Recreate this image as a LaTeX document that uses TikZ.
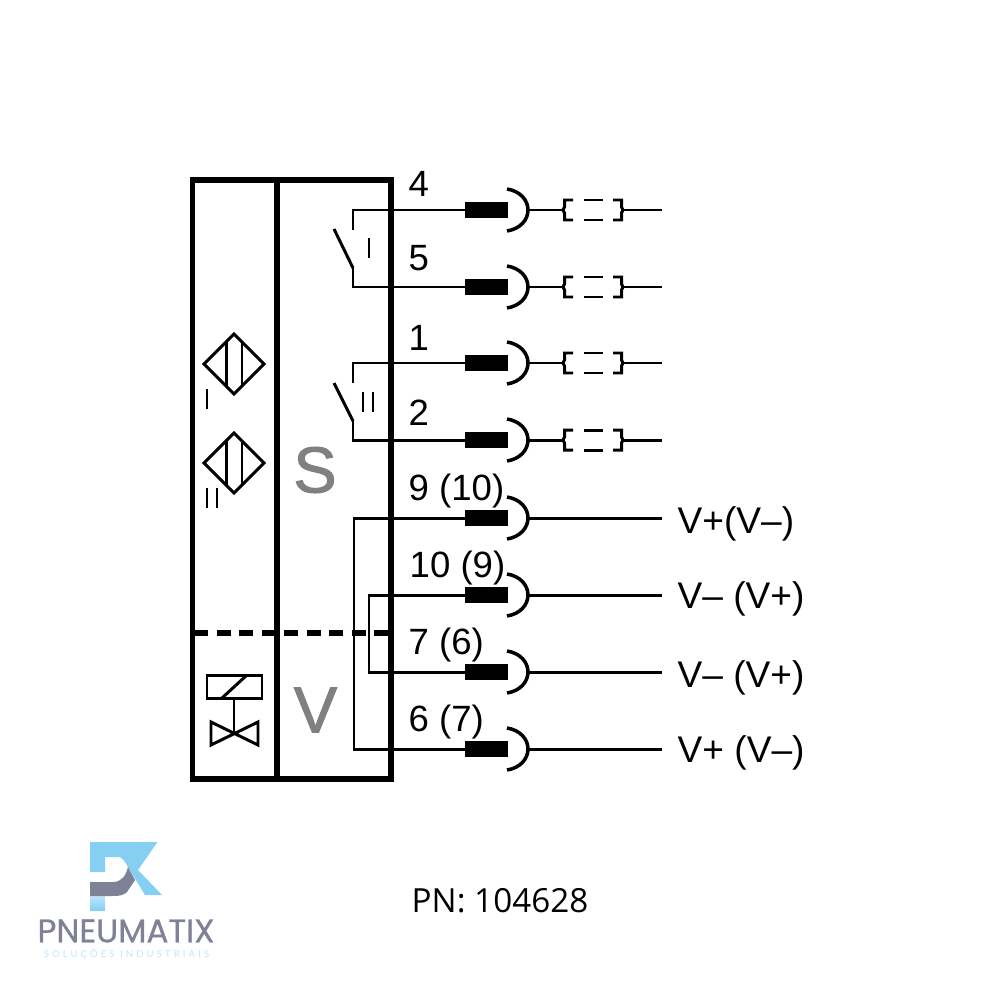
\documentclass[tikz,border=0pt]{standalone}
\usepackage{fontspec}
\setmainfont{Liberation Sans}
\newfontfamily\pnfont{Open Sans}
\newfontfamily\heavyfont[FakeBold=1.5]{Liberation Sans}
\newfontfamily\logofont[FakeBold=0.8]{Poppins}
\newfontfamily\subfont[LetterSpace=33]{Lato}
\usepackage{xcolor}
\usetikzlibrary{positioning,calc}
\definecolor{logogray}{HTML}{7F8197}
\definecolor{logoblue}{HTML}{85CFF3}
\definecolor{logopale}{HTML}{BFE5FB}
\definecolor{lettergray}{HTML}{808080}
\tikzset{
  wire/.style={line width=0.85pt},
  frameline/.style={line width=1.7pt},
  plug/.style={draw=none, fill=black, minimum width=0.42cm, minimum height=0.16cm, inner sep=0pt},
  termlabel/.style={anchor=west, inner sep=0pt, font=\fontsize{10.4}{12}\selectfont},
  supplylabel/.style={anchor=west, inner sep=0pt, font=\fontsize{10.55}{12}\selectfont},
  marklabel/.style={anchor=center, inner sep=0pt, font=\heavyfont\fontsize{18.5}{20}\selectfont, text=lettergray}
}
\begin{document}
\begin{tikzpicture}[x=0.01cm,y=-0.01cm]
    \useasboundingbox (0,0) rectangle (1000,1000);
    % housing
    \draw[frameline] (192.5,180) rectangle (391,779);
    \draw[frameline] (277,180) -- (277,779);
    \draw[line width=1.5pt, dash pattern=on 4pt off 2.4pt] (194,633) -- (391,633);
    \node[marklabel] (S) at (315,470) {S};
    \node[marklabel] (V) at (315.5,710) {V};

    % sensors
    \foreach \yy in {364,463} {
        \draw[wire] (234,\yy-30) -- (264,\yy) -- (234,\yy+30) -- (204,\yy) -- cycle;
        \draw[wire] (226.5,\yy-22) -- (226.5,\yy+22);
        \draw[wire] (242,\yy-22) -- (242,\yy+22);
    }
    \draw[wire] (207,389) -- (207,409);
    \draw[wire] (207,488) -- (207,508);
    \draw[wire] (217,488) -- (217,508);

    % valve
    \draw[wire] (207,675) rectangle (262,698);
    \draw[wire] (222,698) -- (247,675);
    \draw[wire] (234,698) -- (234,733);
    \draw[wire] (211,722) -- (258,745) -- (258,722) -- (211,745) -- cycle;

    % plugs and sockets
    \foreach \n/\yy in {4/210,5/287,1/363,2/440,9/518,10/595,7/672,6/749} {
        \node[plug] (P\n) at (486.5,\yy) {};
        \draw[wire, line width=1pt] (507,\yy-21) .. controls (520,\yy-19) and (528,\yy-10) .. (528,\yy) .. controls (528,\yy+10) and (520,\yy+19) .. (507,\yy+21);
        \coordinate (C\n) at (528,\yy);
        \coordinate (E\n) at (662,\yy);
    }
    % optional cable
    \foreach \n/\yy in {4/210,5/287,1/363,2/440} {
        \coordinate (L\n) at (563,\yy);
        \coordinate (R\n) at (623,\yy);
        \draw[wire] (C\n) -- (L\n);
        \draw[wire] (R\n) -- (E\n);
        \draw[wire] (573,\yy-10) -- (564.5,\yy-10) -- (564.5,\yy-3) -- (L\n) -- (564.5,\yy+3) -- (564.5,\yy+10) -- (573,\yy+10);
        \draw[wire] (613,\yy-10) -- (621.5,\yy-10) -- (621.5,\yy-3) -- (R\n) -- (621.5,\yy+3) -- (621.5,\yy+10) -- (613,\yy+10);
        \draw[wire] (584,\yy-10) -- (603,\yy-10);
        \draw[wire] (584,\yy+10) -- (603,\yy+10);
    }
    \foreach \n in {9,10,7,6} {
        \draw[wire] (C\n) -- (E\n);
    }

    % switch I
    \coordinate (SwA) at (353,230);
    \coordinate (SwB) at (353,268);
    \draw[wire] (SwA) |- (P4.west);
    \draw[wire] (334,229) -- (SwB);
    \draw[wire] (SwB) |- (P5.west);
    \draw[wire] (369,238) -- (369,258);

    % switch II
    \coordinate (SwC) at (353,383);
    \coordinate (SwD) at (353,421);
    \draw[wire] (SwC) |- (P1.west);
    \draw[wire] (334,383) -- (SwD);
    \draw[wire] (SwD) |- (P2.west);
    \draw[wire] (363,392) -- (363,412);
    \draw[wire] (373,392) -- (373,412);

    % valve wiring
    \draw[wire] (P9.west) -| (354,749) -- (P6.west);
    \draw[wire] (P10.west) -| (369,672) -- (P7.west);

    % terminal numbers
    \node[termlabel] (T4) at (408,183.5) {4};
    \node[termlabel] (T5) at (408,258.5) {5};
    \node[termlabel] (T1) at (408,337.5) {1};
    \node[termlabel] (T2) at (408,412.5) {2};
    \node[termlabel] (T9) at (408,491.5) {9 (10)};
    \node[termlabel] (T10) at (409,568.5) {10 (9)};
    \node[termlabel] (T7) at (408,645.5) {7 (6)};
    \node[termlabel] (T6) at (408,722.5) {6 (7)};

    % supply labels
    \node[supplylabel] (U9) at (677,523.5) {V+(V--)};
    \node[supplylabel] (U10) at (677,599) {V-- (V+)};
    \node[supplylabel] (U7) at (677,678) {V-- (V+)};
    \node[supplylabel] (U6) at (677,753) {V+ (V--)};

    \node[anchor=center, inner sep=0pt, font=\pnfont\fontsize{9.45}{12}\selectfont, text=black] (PN) at (500,901) {PN: 104628};

    % logo
    \shade[left color=logoblue, middle color=logopale, right color=logoblue]
        (90,842) -- (157.5,842) -- (138,870) -- (162,895) -- (145,895) -- (128,867)
        .. controls (124,860) and (122,857) .. (118,857) -- (105,857) -- (105,872) -- (90,872) -- cycle;
    \shade[top color=logopale, bottom color=logoblue] (90,896) -- (105,896) -- (105,910) -- (90,910) -- cycle;
    \fill[logogray] (90,882) -- (113,882) .. controls (122,882) and (126,875) .. (128,867)
        -- (135,880) -- (127,892) .. controls (124,895) and (120,896) .. (113,896) -- (90,896) -- cycle;
    \node[anchor=center, inner sep=0pt, font=\logofont\fontsize{9.3}{10}\selectfont, text=logogray] (Brand) at (126,931) {PNEUMATIX};
    \node[anchor=center, inner sep=0pt, font=\subfont\fontsize{2.7}{3}\selectfont, text=logopale] (Tagline) at (126.5,954.5) {SOLUÇÕES INDUSTRIAIS};
\end{tikzpicture}
\end{document}
